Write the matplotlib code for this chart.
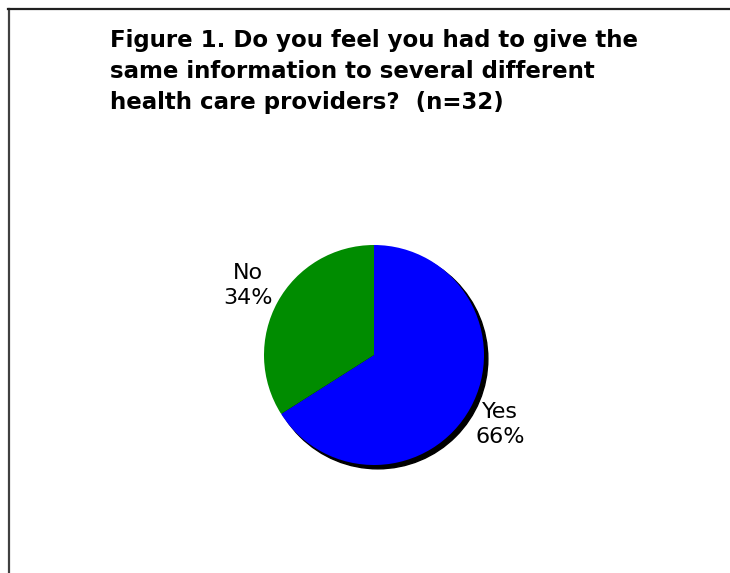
import matplotlib
matplotlib.use("Agg")
import matplotlib.pyplot as plt
from matplotlib.patches import Circle
from matplotlib.lines import Line2D

categories = ["Yes", "No"]
values = [66, 34]
colors = ["#0000FF", "#008C00"]
title = "Figure 1. Do you feel you had to give the\nsame information to several different\nhealth care providers?  (n=32)"

W, H = 730, 573
fig = plt.figure(figsize=(W / 100, H / 100), dpi=100)
fig.patch.set_facecolor("white")

# frame lines (left and top)
fig.add_artist(Line2D([8.5 / W, 8.5 / W], [0, 1 - 9 / H], color="#404040", lw=1.6, transform=fig.transFigure))
fig.add_artist(Line2D([8 / W, 1], [1 - 9 / H, 1 - 9 / H], color="#202020", lw=1.6, transform=fig.transFigure))

fig.text(110 / W, 1 - 29 / H, title, fontsize=16.5, fontweight="bold", family="DejaVu Sans",
         ha="left", va="top", linespacing=1.45)

cx, cy, r = 374, 355, 110
ax = fig.add_axes([(cx - r) / W, 1 - (cy + r) / H, 2 * r / W, 2 * r / H])
ax.set_xlim(-1, 1)
ax.set_ylim(-1, 1)
ax.set_aspect("equal")
ax.axis("off")

ax.add_patch(Circle((0.035, -0.035), 1.0, color="black", zorder=0, clip_on=False))
labels = [f"{c}\n{v}%" for c, v in zip(categories, values)]
wedges, texts = ax.pie(values, colors=colors, startangle=90, counterclock=False,
                       labels=labels, labeldistance=1.31,
                       textprops=dict(fontsize=16, family="DejaVu Sans", linespacing=1.3),
                       wedgeprops=dict(linewidth=0))
for t in texts:
    t.set_ha("center")
    t.set_va("center")
for w in wedges:
    w.set_zorder(1)
ax.set_xlim(-1, 1)
ax.set_ylim(-1, 1)

fig.savefig("out.png", dpi=100, facecolor="white")
